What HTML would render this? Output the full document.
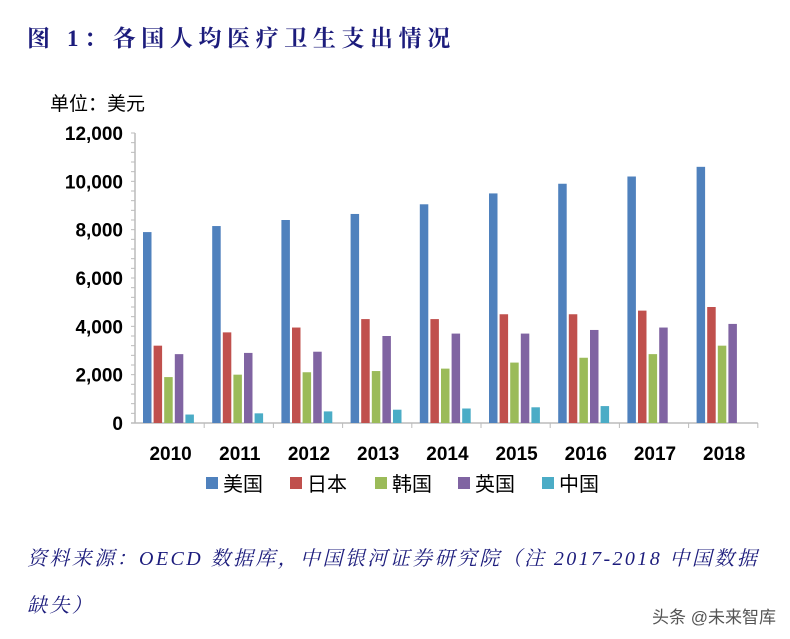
<!DOCTYPE html>
<html><head><meta charset="utf-8"><style>
body{margin:0;background:#fff;width:790px;height:639px;overflow:hidden;position:relative;font-family:"Liberation Sans","Noto Sans CJK SC",sans-serif}
.title{position:absolute;left:27px;top:20px;font-family:"Liberation Serif","Noto Serif CJK SC",serif;font-weight:bold;font-size:23px;color:#1c1c7c;letter-spacing:5.6px;white-space:nowrap}
.src{position:absolute;left:27px;font-family:"Liberation Serif","Noto Serif CJK SC",serif;font-style:italic;font-size:20px;color:#1c1c7c;white-space:nowrap;letter-spacing:2.4px}
.wm{position:absolute;right:14px;top:603px;font-size:17px;color:#555}
</style></head><body>
<div class="title">图 1：各国人均医疗卫生支出情况</div>
<svg id="chart" width="790" height="520" style="position:absolute;left:0;top:0"></svg>
<div class="src" style="top:542px">资料来源：OECD 数据库，中国银河证券研究院（注 2017-2018 中国数据</div>
<div class="src" style="top:589px">缺失）</div>
<div class="wm">头条 @未来智库</div>
<script>
const categories=["2010","2011","2012","2013","2014","2015","2016","2017","2018"];
const seriesNames=["美国","日本","韩国","英国","中国"];
const usa=[7900,8150,8400,8650,9050,9500,9900,10200,10600];
const japan=[3200,3750,3950,4300,4300,4500,4500,4650,4800];
const korea=[1900,2000,2100,2150,2250,2500,2700,2850,3200];
const uk=[2850,2900,2950,3600,3700,3700,3850,3950,4100];
const china=[350,400,480,550,600,650,700,null,null];
const yTicks=[0,2000,4000,6000,8000,10000,12000];
const yTickLabels=["0","2,000","4,000","6,000","8,000","10,000","12,000"];
const colors=["#4f81bd","#c0504d","#9bbb59","#8064a2","#4bacc6"];
const series=[usa,japan,korea,uk,china];
const svg=document.getElementById('chart');const NS="http://www.w3.org/2000/svg";
const x0=135,gw=69.2,y0=423,yTop=133,yMax=12000;
const y=v=>y0-(v/yMax)*(y0-yTop);
function mk(t,a,txt){const e=document.createElementNS(NS,t);for(const k in a)e.setAttribute(k,a[k]);if(txt!=null)e.textContent=txt;svg.appendChild(e);return e;}
let e=mk('text',{x:50,y:110,'font-size':19,fill:'#000','font-family':'"Liberation Sans","Noto Sans CJK SC",sans-serif'},'单位：美元');

e=mk('line',{x1:x0,y1:yTop,x2:x0,y2:y0,stroke:'#bbb','stroke-width':1.5});

e=mk('line',{x1:x0-4,y1:y0,x2:x0+gw*categories.length,y2:y0,stroke:'#bbb','stroke-width':1.5});

for(let v=0;v<=yMax;v+=400){const t=mk('line',{x1:x0-4,y1:y(v),x2:x0,y2:y(v),stroke:'#bbb'});}
yTicks.forEach((v,i)=>{const t=mk('text',{x:x0-12,y:y(v)+7,'text-anchor':'end','font-size':19,'font-weight':'bold',fill:'#000'},yTickLabels[i]);});
categories.forEach((c,i)=>{
 const gx=x0+i*gw;
 const tk=mk('line',{x1:gx+gw,y1:y0,x2:gx+gw,y2:y0+5,stroke:'#bbb'});
 const t=mk('text',{x:gx+gw/2+1,y:460,'text-anchor':'middle','font-size':19,'font-weight':'bold',fill:'#000'},c);
 series.forEach((s,j)=>{const v=s[i];if(v==null)return;
  const b=mk('rect',{x:gx+8+j*10.6,y:y(v),width:8.5,height:y0-y(v),fill:colors[j]});
  });
});
const lx=[206,290,375,458,542];
seriesNames.forEach((n,j)=>{
 const r=mk('rect',{x:lx[j],y:477,width:12,height:12,fill:colors[j]});
 const t=mk('text',{x:lx[j]+17,y:491,'font-size':20,fill:'#000'},n);
});
</script>
</body></html>
